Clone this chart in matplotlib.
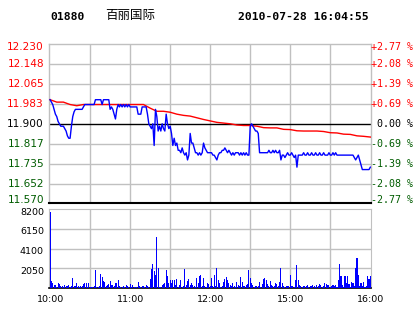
import matplotlib
matplotlib.use("Agg")
import matplotlib.pyplot as plt
import numpy as np

# ---- data ----
stock_code = "01880"
stock_name = "百丽国际"
stamp = "2010-07-28 16:04:55"
prev_close = 11.90

price_ticks = [12.230, 12.148, 12.065, 11.983, 11.900, 11.817, 11.735, 11.652, 11.570]
pct_labels = ["+2.77 %", "+2.08 %", "+1.39 %", "+0.69 %", " 0.00 %",
              "-0.69 %", "-1.39 %", "-2.08 %", "-2.77 %"]
vol_ticks = [8200, 6150, 4100, 2050]
time_pos = [0, 60, 120, 180, 240]
time_labels = ["10:00", "11:00", "12:00", "15:00", "16:00"]

# last price, one value per minute (0 = 10:00, 150 = 14:30, 240 = 16:00)
price = [
    12.00, 11.99, 11.98, 11.96, 11.94, 11.93, 11.91, 11.90, 11.89, 11.89,
    11.89, 11.88, 11.87, 11.85, 11.84, 11.84, 11.89, 11.93, 11.95, 11.96,
    11.96, 11.96, 11.96, 11.96, 11.96, 11.97, 11.98, 11.98, 11.98, 11.98,
    11.98, 11.98, 11.98, 11.98, 12.00, 12.00, 12.00, 12.00, 12.00, 11.98,
    12.00, 12.00, 12.00, 12.00, 12.00, 11.96, 11.97, 11.96, 11.94, 11.92,
    11.96, 11.98, 11.97, 11.98, 11.97, 11.98, 11.97, 11.98, 11.97, 11.98,
    11.97, 11.97, 11.97, 11.97, 11.97, 11.97, 11.94, 11.94, 11.94, 11.97,
    11.97, 11.97, 11.97, 11.94, 11.90, 11.89, 11.88, 11.90, 11.81, 11.96,
    11.93, 11.87, 11.89, 11.87, 11.90, 11.88, 11.87, 11.94, 11.90, 11.88,
    11.89, 11.86, 11.81, 11.84, 11.81, 11.82, 11.79, 11.79, 11.78, 11.80,
    11.78, 11.77, 11.78, 11.75, 11.77, 11.86, 11.82, 11.82, 11.80, 11.78,
    11.78, 11.77, 11.78, 11.77, 11.78, 11.82, 11.80, 11.79, 11.78, 11.78,
    11.78, 11.78, 11.77, 11.77, 11.76, 11.75, 11.77, 11.78, 11.78, 11.79,
    11.79, 11.80, 11.79, 11.78, 11.79, 11.78, 11.77, 11.78, 11.77, 11.78,
    11.78, 11.78, 11.77, 11.78, 11.77, 11.78, 11.77, 11.78, 11.77, 11.77,
    11.89, 11.90, 11.89, 11.88, 11.87, 11.87, 11.86, 11.78, 11.78, 11.78,
    11.78, 11.78, 11.78, 11.78, 11.79, 11.78, 11.78, 11.79, 11.78, 11.79,
    11.78, 11.78, 11.79, 11.75, 11.77, 11.77, 11.76, 11.77, 11.78, 11.77,
    11.77, 11.78, 11.77, 11.76, 11.77, 11.72, 11.77, 11.77, 11.77, 11.77,
    11.78, 11.77, 11.77, 11.78, 11.77, 11.77, 11.78, 11.77, 11.77, 11.78,
    11.77, 11.77, 11.78, 11.77, 11.77, 11.78, 11.77, 11.77, 11.77, 11.78,
    11.77, 11.77, 11.78, 11.77, 11.78, 11.77, 11.77, 11.77, 11.77, 11.77,
    11.77, 11.77, 11.77, 11.77, 11.77, 11.77, 11.77, 11.77, 11.76, 11.75,
    11.76, 11.77, 11.75, 11.73, 11.71, 11.71, 11.71, 11.71, 11.71, 11.71,
    11.72,
]

# average price line, every 5 minutes
avg_minutes = list(range(0, 241, 5))
avg_price = [
    12.000, 11.990, 11.990, 11.980, 11.975, 11.980, 11.980, 11.980, 11.980, 11.980,
    11.980, 11.980, 11.980, 11.980, 11.980, 11.965, 11.952, 11.952, 11.948, 11.940,
    11.935, 11.932, 11.925, 11.918, 11.912, 11.906, 11.903, 11.900, 11.895, 11.893,
    11.893, 11.890, 11.884, 11.883, 11.883, 11.877, 11.876, 11.871, 11.870, 11.870,
    11.870, 11.868, 11.863, 11.862, 11.857, 11.856, 11.850, 11.848, 11.845,
]

# volume per minute
volume = [
    7900, 730, 490, 310, 310, 150, 550, 420, 210, 210,
    150, 310, 210, 210, 310, 150, 210, 1000, 200, 210,
    550, 210, 150, 210, 210, 420, 490, 550, 150, 490,
    140, 150, 140, 210, 1870, 140, 150, 210, 1460, 1180,
    730, 660, 210, 310, 380, 730, 310, 310, 210, 490,
    550, 830, 210, 150, 140, 210, 150, 310, 210, 140,
    420, 150, 310, 140, 150, 140, 590, 210, 150, 210,
    210, 150, 310, 210, 150, 900, 1940, 2500, 1800, 1350,
    5270, 2050, 140, 150, 310, 420, 490, 1870, 1250, 490,
    830, 490, 830, 830, 310, 900, 140, 310, 830, 150,
    210, 1940, 310, 760, 900, 310, 490, 310, 210, 150,
    1000, 490, 1250, 1350, 210, 1000, 210, 150, 490, 380,
    210, 1000, 210, 1350, 210, 2050, 830, 490, 150, 210,
    660, 900, 1110, 830, 490, 310, 210, 490, 210, 150,
    660, 310, 210, 1110, 660, 210, 210, 310, 420, 1870,
    1000, 550, 310, 150, 210, 210, 210, 660, 150, 420,
    900, 1000, 830, 420, 210, 760, 310, 210, 210, 490,
    420, 210, 660, 2050, 490, 210, 150, 210, 210, 210,
    1350, 210, 210, 140, 830, 2390, 830, 310, 210, 150,
    210, 210, 210, 310, 150, 210, 210, 310, 210, 150,
    310, 210, 420, 310, 150, 210, 490, 380, 310, 310,
    150, 210, 310, 210, 310, 150, 830, 2500, 1250, 310,
    150, 1250, 490, 1250, 420, 150, 660, 490, 210, 2050,
    3090, 1350, 210, 550, 210, 660, 150, 210, 1250, 900,
    1250,
]

# ---- figure ----
W, H = 414, 314
fig = plt.figure(figsize=(W / 100, H / 100), dpi=100)
fig.patch.set_facecolor("white")

GRID = "#c0c0c0"
RED = "#ff0000"
GREEN = "#005c00"
BLUE = "#0000ff"
XLIM = (-0.8, 240.5)


def box(left, top, right, bottom):
    return [left / W, 1 - bottom / H, (right - left) / W, (bottom - top) / H]


ax = fig.add_axes(box(49, 44.3, 371, 203.3))
axv = fig.add_axes(box(49, 209.3, 371, 288))

minutes = np.arange(len(price))

# price panel
ax.set_xlim(*XLIM)
ax.set_ylim(price_ticks[-1], price_ticks[0])
for p in price_ticks[1:-1]:
    if abs(p - prev_close) < 1e-6:
        ax.axhline(p, color="black", lw=1.0, zorder=2)
    else:
        ax.axhline(p, color=GRID, lw=1.0, zorder=1)
for t in range(30, 240, 30):
    ax.axvline(t, color=GRID, lw=1.0, zorder=1)
ax.plot(avg_minutes, avg_price, color=RED, lw=1.0, zorder=3)
ax.plot(minutes, price, color=BLUE, lw=1.0, zorder=4)
ax.set_xticks([])
ax.set_yticks([])
for side in ["top", "left", "right"]:
    ax.spines[side].set_color(GRID)
    ax.spines[side].set_linewidth(1.0)
ax.spines["bottom"].set_color("black")
ax.spines["bottom"].set_linewidth(1.5)

ytrans = ax.get_yaxis_transform()
n = len(price_ticks)
for i, (p, lab) in enumerate(zip(price_ticks, pct_labels)):
    if p > prev_close + 1e-6:
        c = RED
    elif p < prev_close - 1e-6:
        c = GREEN
    else:
        c = "black"
    # end labels are nudged inside the panel like in the reference
    dy = -3 if i == 0 else (3 if i == n - 1 else 0)
    ax.annotate(f"{p:.3f}", xy=(0, p), xycoords=ytrans,
                xytext=(-5, dy), textcoords="offset pixels",
                color=c, ha="right", va="center", fontsize=7.6,
                family="DejaVu Sans")
    ax.annotate(lab, xy=(1, p), xycoords=ytrans,
                xytext=(0.5, dy), textcoords="offset pixels",
                color=c, ha="left", va="center", fontsize=7.2,
                family="DejaVu Sans Mono")

# volume panel
axv.set_xlim(*XLIM)
axv.set_ylim(0, vol_ticks[0])
for v in vol_ticks[1:]:
    axv.axhline(v, color=GRID, lw=1.0, zorder=1)
for t in range(30, 240, 30):
    axv.axvline(t, color=GRID, lw=1.0, zorder=1)
axv.bar(minutes, volume, width=0.8, color=BLUE, align="center",
        antialiased=False, zorder=3)
axv.set_yticks([])
vtrans = axv.get_yaxis_transform()
for v in vol_ticks:
    axv.annotate(str(v), xy=(0, v), xycoords=vtrans,
                 xytext=(-5, -3), textcoords="offset pixels",
                 ha="right", va="center", fontsize=6.8, family="DejaVu Sans")
axv.set_xticks(time_pos)
axv.set_xticklabels(time_labels, fontsize=6.8)
axv.tick_params(length=0, pad=5)
for side in ["top", "left", "right"]:
    axv.spines[side].set_color(GRID)
axv.spines["bottom"].set_color("black")
axv.spines["bottom"].set_linewidth(1.2)

# header
fig.text(50 / W, 1 - 16.5 / H, stock_code, fontsize=8.2, weight="bold",
         family="DejaVu Sans Mono", ha="left", va="center")
fig.text(105 / W, 1 - 16 / H, stock_name, fontsize=9,
         family=["Noto Sans CJK SC", "DejaVu Sans"], ha="left", va="center")
fig.text(238 / W, 1 - 16.5 / H, stamp, fontsize=8.2, weight="bold",
         family="DejaVu Sans Mono", ha="left", va="center")

fig.savefig("out.png", dpi=100)
